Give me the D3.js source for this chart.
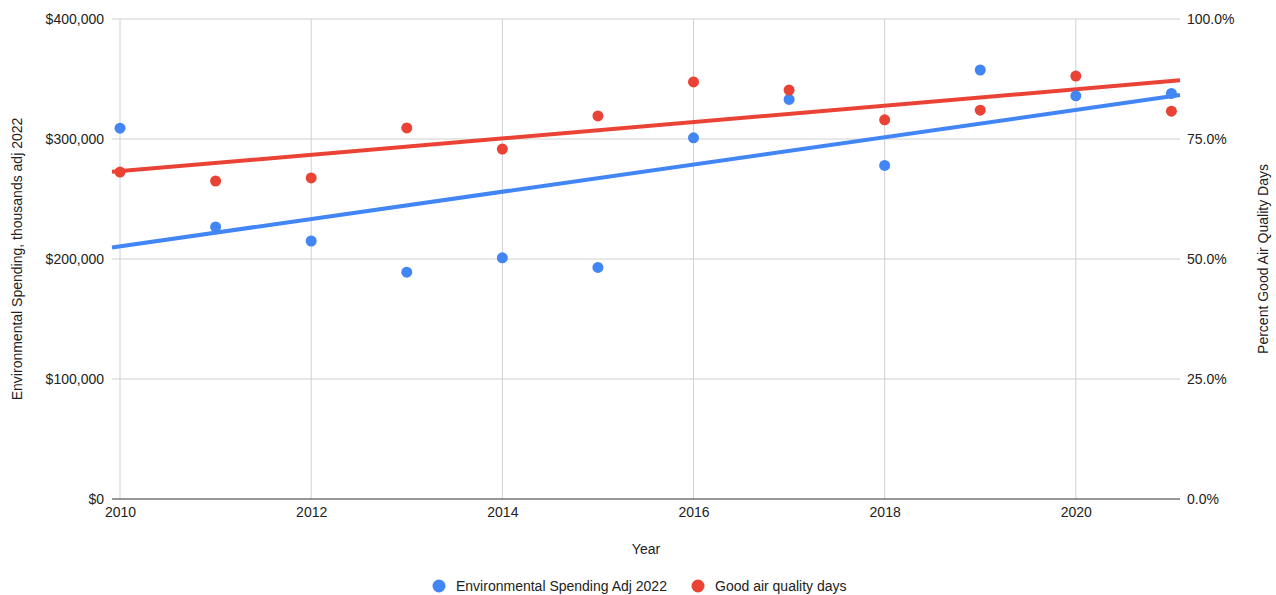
<!DOCTYPE html>
<html>
<head>
<meta charset="utf-8">
<script src="https://cdn.jsdelivr.net/npm/d3@7/dist/d3.min.js"></script>
<style>
  html, body { margin: 0; padding: 0; background: #fff; }
  svg { display: block; font-family: "Liberation Sans", Arial, sans-serif; }
</style>
</head>
<body>
<svg id="chart" width="1276" height="595"></svg>
<script>
// Data
const years = [2010, 2011, 2012, 2013, 2014, 2015, 2016, 2017, 2018, 2019, 2020, 2021];
const spending = [309000, 226700, 215000, 189000, 201000, 193000, 301000, 333000, 278000, 357500, 336000, 338000];
const goodAirPct = [68.1, 66.25, 66.9, 77.3, 72.9, 79.8, 86.9, 85.2, 79.0, 81.0, 88.1, 80.8];
const xTicks = [2010, 2012, 2014, 2016, 2018, 2020];
const leftTicks = [0, 100000, 200000, 300000, 400000];
const rightTicks = [0, 25, 50, 75, 100];
const seriesNames = ["Environmental Spending Adj 2022", "Good air quality days"];

const BLUE = "#4285F4", RED = "#EA4335";
const FS = 14;
const svg = d3.select("#chart");
const plot = { left: 112, right: 1180, top: 19, bottom: 499 };

const x = d3.scaleLinear().domain([2009.916, 2021.09]).range([plot.left, plot.right]);
const yL = d3.scaleLinear().domain([0, 400000]).range([plot.bottom, plot.top]);
const yR = d3.scaleLinear().domain([0, 100]).range([plot.bottom, plot.top]);

// Gridlines
const grid = svg.append("g");
grid.selectAll("line.h").data(leftTicks.slice(1)).join("line")
  .attr("x1", plot.left).attr("x2", plot.right)
  .attr("y1", d => yL(d)).attr("y2", d => yL(d))
  .attr("stroke", "#d0d0d0").attr("stroke-width", 1);
grid.selectAll("line.v").data(xTicks).join("line")
  .attr("x1", d => x(d)).attr("x2", d => x(d))
  .attr("y1", plot.top).attr("y2", plot.bottom)
  .attr("stroke", "#d0d0d0").attr("stroke-width", 1);

// Baseline
svg.append("line")
  .attr("x1", plot.left).attr("x2", plot.right)
  .attr("y1", plot.bottom).attr("y2", plot.bottom)
  .attr("stroke", "#333").attr("stroke-width", 1);

// Axes
const fmtMoney = d => "$" + d3.format(",")(d);
const leftAxis = svg.append("g").attr("transform", `translate(${plot.left},0)`)
  .call(d3.axisLeft(yL).tickValues(leftTicks).tickFormat(fmtMoney).tickSize(0).tickPadding(8));
const rightAxis = svg.append("g").attr("transform", `translate(${plot.right},0)`)
  .call(d3.axisRight(yR).tickValues(rightTicks).tickFormat(d => d3.format(".1f")(d) + "%").tickSize(0).tickPadding(7));
const bottomAxis = svg.append("g").attr("transform", `translate(0,${plot.bottom})`)
  .call(d3.axisBottom(x).tickValues(xTicks).tickFormat(d3.format("d")).tickSize(0).tickPadding(8));
[leftAxis, rightAxis, bottomAxis].forEach(g => {
  g.select(".domain").remove();
  g.selectAll("text").attr("font-size", FS).attr("fill", "#222")
    .attr("font-family", "\"Liberation Sans\", Arial, sans-serif");
});

// Least-squares trend
function trend(xs, ys) {
  const mx = d3.mean(xs), my = d3.mean(ys);
  const sxy = d3.sum(xs, (v, i) => (v - mx) * (ys[i] - my));
  const sxx = d3.sum(xs, v => (v - mx) ** 2);
  const m = sxy / sxx;
  return v => my + m * (v - mx);
}
const [x0, x1] = x.domain();
const tBlue = trend(years, spending);
const tRed = trend(years, goodAirPct);

svg.append("line")
  .attr("x1", x(x0)).attr("y1", yL(tBlue(x0)))
  .attr("x2", x(x1)).attr("y2", yL(tBlue(x1)))
  .attr("stroke", BLUE).attr("stroke-width", 4);
svg.append("line")
  .attr("x1", x(x0)).attr("y1", yR(tRed(x0)))
  .attr("x2", x(x1)).attr("y2", yR(tRed(x1)))
  .attr("stroke", RED).attr("stroke-width", 4);

// Points
svg.append("g").selectAll("circle").data(years).join("circle")
  .attr("cx", d => x(d)).attr("cy", (d, i) => yL(spending[i]))
  .attr("r", 5.5).attr("fill", BLUE);
svg.append("g").selectAll("circle").data(years).join("circle")
  .attr("cx", d => x(d)).attr("cy", (d, i) => yR(goodAirPct[i]))
  .attr("r", 5.5).attr("fill", RED);

// Axis titles
const title = (tx, ty, rot, txt) => svg.append("text")
  .attr("transform", `translate(${tx},${ty}) rotate(${rot})`)
  .attr("text-anchor", "middle").attr("font-size", FS).attr("fill", "#222").text(txt);
title(22, 259, -90, "Environmental Spending, thousands adj 2022");
title(1268, 259, -90, "Percent Good Air Quality Days");
svg.append("text").attr("x", 646).attr("y", 554).attr("text-anchor", "middle")
  .attr("font-size", FS).attr("fill", "#222").text("Year");

// Legend
const legend = svg.append("g");
const legendItems = [
  { name: seriesNames[0], color: BLUE, cx: 439 },
  { name: seriesNames[1], color: RED, cx: 698 }
];
legendItems.forEach(it => {
  legend.append("circle").attr("cx", it.cx).attr("cy", 586).attr("r", 6.5).attr("fill", it.color);
  legend.append("text").attr("x", it.cx + 17).attr("y", 591)
    .attr("font-size", FS).attr("fill", "#222").text(it.name);
});
</script>
</body>
</html>
